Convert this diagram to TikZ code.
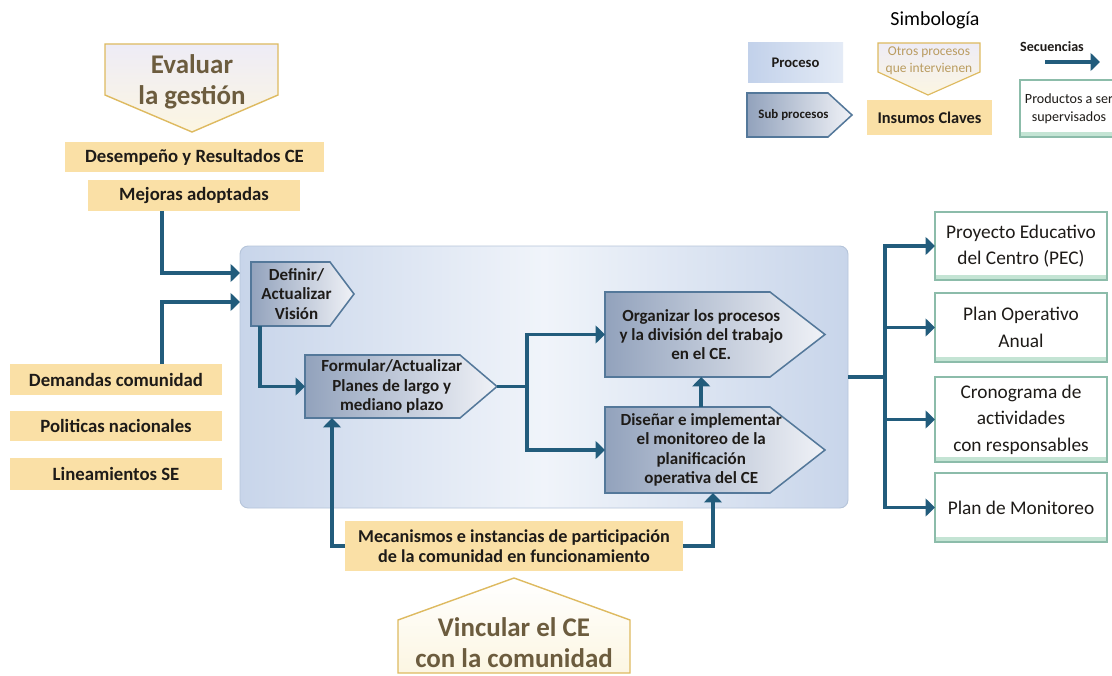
\documentclass[tikz,border=0pt]{standalone}
\usepackage{fontspec}
\setmainfont{Carlito}
\usetikzlibrary{arrows.meta,calc}

\definecolor{seqblue}{RGB}{34,92,124}
\definecolor{goldfill}{RGB}{250,224,166}
\definecolor{goldline}{RGB}{222,186,96}
\definecolor{goldtop}{RGB}{238,236,246}
\definecolor{goldlow}{RGB}{252,246,226}
\definecolor{headtxt}{RGB}{108,92,62}
\definecolor{othertxt}{RGB}{186,156,96}
\definecolor{procedge}{RGB}{182,197,218}
\definecolor{procA}{RGB}{200,213,234}
\definecolor{procB}{RGB}{240,244,250}
\definecolor{subA}{RGB}{146,162,188}
\definecolor{subB}{RGB}{240,242,247}
\definecolor{subedge}{RGB}{84,120,154}
\definecolor{prodedge}{RGB}{140,188,170}
\definecolor{prodbar}{RGB}{196,228,212}
\definecolor{txtdark}{RGB}{30,27,24}

\newcommand\pxu{0.03cm}
\newcommand\fsz[2]{\fontsize{#1}{#2}\selectfont}

% right-pointing sub-process: name, x1, y1, x of flat end, x of tip, y2, text
\newcommand\subproc[7]{%
  \path[subshape] (#2,#3) -- (#4,#3) -- (#5,{(#3+#6)/2}) -- (#4,#6) -- (#2,#6) -- cycle;
  \coordinate (#1-tip) at (#5,{(#3+#6)/2});
  \node[subtxt, minimum width={((#4+#5)/2-#2)*\pxu}, minimum height={(#6-#3)*\pxu}]
    (#1) at ({(#2+(#4+#5)/2)/2},{(#3+#6)/2}) {#7};
}

\tikzset{
  flow/.style={draw=seqblue, line width=3.1pt, -{Triangle[length=8pt,width=15pt]}},
  flowline/.style={draw=seqblue, line width=3.1pt},
  insumo/.style={fill=goldfill, draw=none, inner sep=0pt, outer sep=0pt,
    align=center, text=txtdark, font=\bfseries\fsz{16}{19}},
  headshape/.style={draw=goldline, line width=1.2pt, top color=goldtop, bottom color=goldlow},
  headtext/.style={text=headtxt, font=\bfseries\fsz{23}{26.5}, align=center, inner sep=0pt},
  subshape/.style={draw=subedge, line width=1.3pt, left color=subA, right color=subB},
  subtxt/.style={inner sep=0pt, outer sep=0pt, align=center, text=txtdark,
    font=\bfseries\fsz{14.5}{16.5}},
  procbox/.style={draw=procedge, line width=0.8pt, rounded corners=7pt,
    left color=procA, right color=procA, middle color=procB, inner sep=0pt, outer sep=0pt},
  product/.style={draw=prodedge, line width=0.9pt, fill=white, inner sep=0pt, outer sep=0pt,
    align=center, text=txtdark, font=\fsz{16.5}{22.5},
    path picture={\fill[prodbar] (path picture bounding box.south west)
      rectangle ([yshift=4pt]path picture bounding box.south east);}},
}

\begin{document}
\begin{tikzpicture}[x=0.03cm, y=-0.03cm]
\useasboundingbox (0,0) rectangle (1112,676);
\clip (0,0) rectangle (1112,676);
\fill[white] (0,0) rectangle (1112,676);

% ---------- legend ----------
\node[font=\fsz{17}{20}, text=black] (lgtitle) at (935,20) {Simbología};
\node[left color={rgb,255:red,194;green,209;blue,234}, right color={rgb,255:red,228;green,235;blue,246},
      minimum width={95*\pxu}, minimum height={40*\pxu}, inner sep=0pt,
      font=\bfseries\fsz{12.5}{14}, text=txtdark] (lgproc) at (795.5,63) {Proceso};
\path[subshape] (747,93) -- (828,93) -- (852,115) -- (828,137) -- (747,137) -- cycle;
\node[subtxt, font=\bfseries\fsz{11}{13}, minimum width={93*\pxu}, minimum height={44*\pxu}]
  (lgsub) at (793.5,115) {Sub procesos};
\path[headshape, line width=1pt] (878,43) -- (980,43) -- (980,72) -- (928,95) -- (878,72) -- cycle;
\node[text=othertxt, font=\fsz{11.5}{14.5}, align=center, inner sep=0pt] (lgother) at (929,61)
  {Otros procesos\\que intervienen};
\node[insumo, font=\bfseries\fsz{14}{16}, minimum width={125*\pxu}, minimum height={35*\pxu}]
  (lgins) at (929.5,117.5) {Insumos Claves};
\node[font=\bfseries\fsz{12}{14}, text=txtdark, inner sep=0pt] (lgseq) at (1052,47) {Secuencias};
\coordinate (sqa) at (1045,62);
\coordinate (sqb) at (1100,62);
\draw[flow] (sqa) -- (sqb);
\node[product, font=\fsz{12}{15.5}, minimum width={98*\pxu}, minimum height={57*\pxu}]
  (lgprod) at (1069,108.5) {Productos a ser\\supervisados};

% ---------- evaluation heading and its inputs ----------
\path[headshape] (105,44) -- (278,44) -- (278,95) -- (192,132) -- (105,95) -- cycle;
\node[headtext] (eval) at (192,82) {Evaluar\\la gestión};
\node[insumo, minimum width={259*\pxu}, minimum height={30*\pxu}] (des) at (194.5,157)
  {Desempeño y Resultados CE};
\node[insumo, minimum width={212*\pxu}, minimum height={31*\pxu}] (mej) at (194,195.5)
  {Mejoras adoptadas};

% ---------- external inputs ----------
\node[insumo, minimum width={212*\pxu}, minimum height={31*\pxu}] (dem) at (116,379.5)
  {Demandas comunidad};
\node[insumo, minimum width={212*\pxu}, minimum height={30*\pxu}] (pol) at (116,426)
  {Politicas nacionales};
\node[insumo, minimum width={212*\pxu}, minimum height={32*\pxu}] (lin) at (116,474)
  {Lineamientos SE};

% ---------- main process ----------
\node[procbox, minimum width={608*\pxu}, minimum height={262*\pxu}] (proc) at (544,377) {};

\subproc{defn}{251}{262}{330}{354}{326}{Definir/\\Actualizar\\Visión}
\subproc{fmt}{305}{355}{460}{497}{418}{Formular/Actualizar\\Planes de largo y\\mediano plazo}
\subproc{org}{605}{292}{770}{825}{377}{Organizar los procesos\\y la división del trabajo\\en el CE.}
\subproc{dis}{605}{407}{770}{825}{493}{Diseñar e implementar\\el monitoreo de la\\planificación\\operativa del CE}

% ---------- community link ----------
\node[insumo, font=\bfseries\fsz{15.5}{17.5}, minimum width={338*\pxu}, minimum height={50*\pxu}]
  (mec) at (514,546) {Mecanismos e instancias de participación\\de la comunidad en funcionamiento};
\path[headshape, top color=white, bottom color=goldlow] (514,578) -- (630,620) -- (630,673)
  -- (398,673) -- (398,620) -- cycle;
\node[headtext] (vinc) at (514,643) {Vincular el CE\\con la comunidad};

% ---------- products ----------
\node[product, minimum width={172*\pxu}, minimum height={68*\pxu}] (pec) at (1021,246)
  {Proyecto Educativo\\del Centro (PEC)};
\node[product, minimum width={172*\pxu}, minimum height={69*\pxu}] (poa) at (1021,327.5)
  {Plan Operativo\\Anual};
\node[product, minimum width={172*\pxu}, minimum height={85*\pxu}] (cro) at (1021,419.5)
  {Cronograma de\\actividades\\con responsables};
\node[product, minimum width={172*\pxu}, minimum height={69*\pxu}] (mon) at (1021,507.5)
  {Plan de Monitoreo};

% ---------- sequences ----------
\coordinate (lx) at (162,0);
\coordinate (inA) at (0,273);
\coordinate (inB) at (0,302);
\draw[flow] (mej.south -| lx) |- (proc.west |- inA);
\draw[flow] (dem.north -| lx) |- (proc.west |- inB);

\coordinate (dx) at (260,0);
\draw[flow] (defn.south -| dx) |- (fmt.west);

\coordinate (jx) at (527,0);
\draw[flowline] (fmt-tip) -- (fmt-tip -| jx);
\draw[flow] (fmt-tip -| jx) |- (org.west);
\draw[flow] (fmt-tip -| jx) |- (dis.west);
\draw[flow] (dis.north) -- (org.south);

\coordinate (mx) at (332,0);
\coordinate (my) at (713,0);
\draw[flow] (mec.west) -| (fmt.south -| mx);
\draw[flow] (mec.east) -| (dis.south -| my);

\coordinate (vx) at (885,0);
\draw[flowline] (proc.east) -- (proc.east -| vx);
\draw[flow] (proc.east -| vx) |- (pec.west);
\draw[flow] (proc.east -| vx) |- (poa.west);
\draw[flow] (proc.east -| vx) |- (cro.west);
\draw[flow] (proc.east -| vx) |- (mon.west);
\end{tikzpicture}
\end{document}
